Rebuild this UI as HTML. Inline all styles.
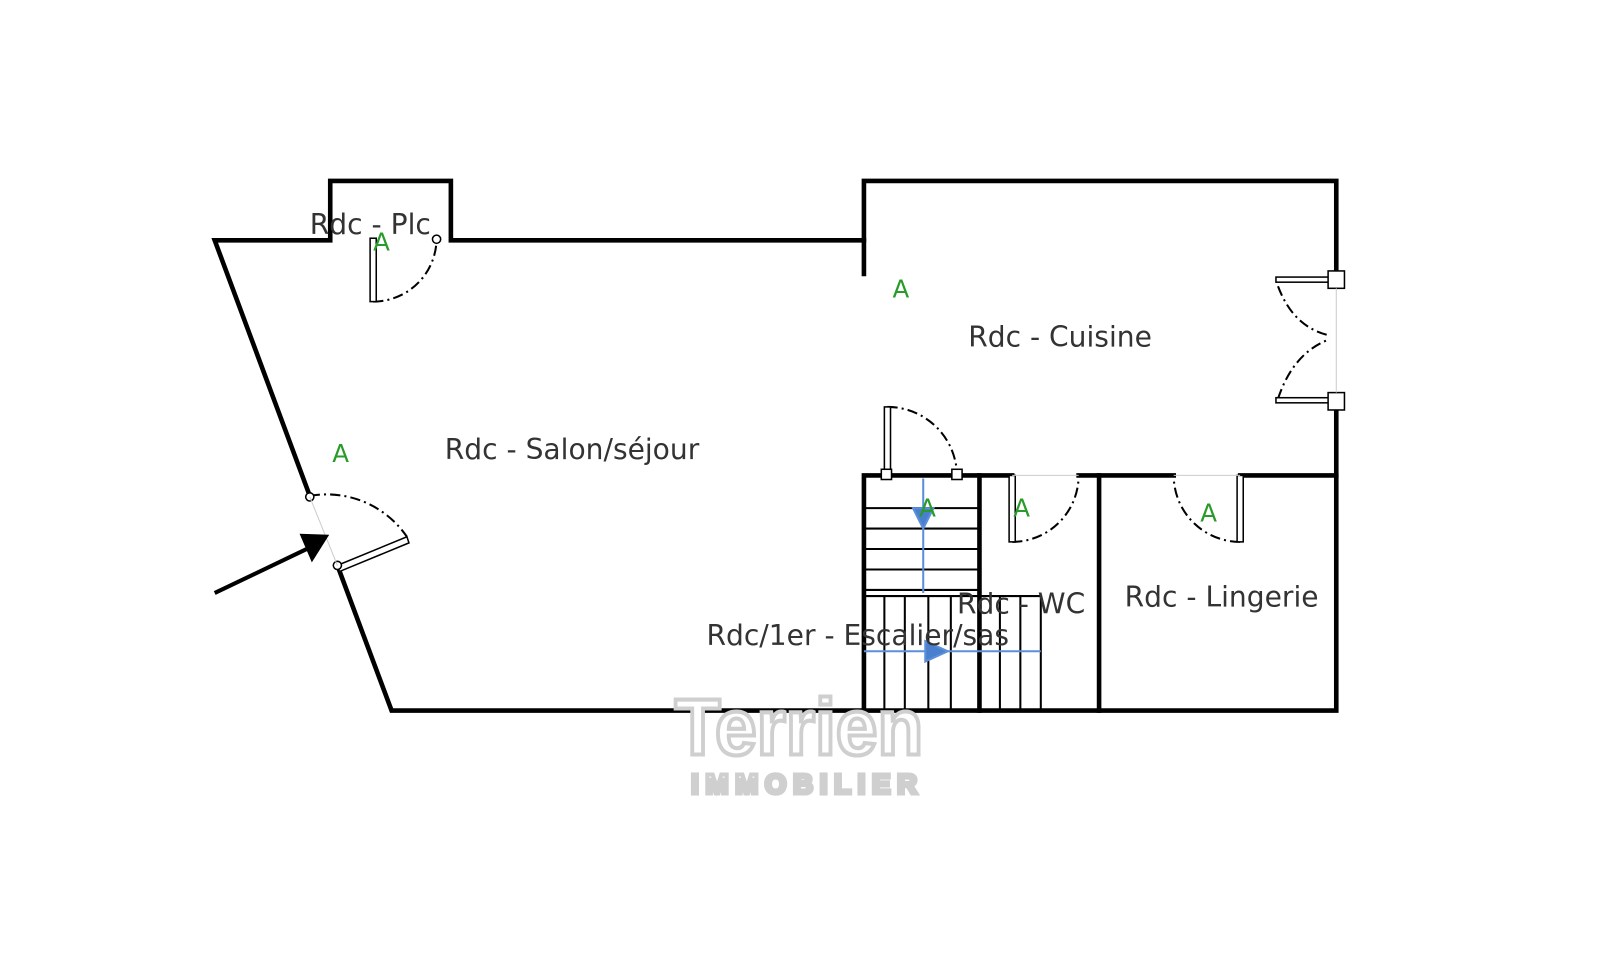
<!DOCTYPE html>
<html><head><style>body{margin:0;background:#fff}svg{display:block}</style></head><body>
<svg width="1600" height="961" viewBox="0 0 1600 961" xmlns="http://www.w3.org/2000/svg" font-family="'DejaVu Sans','Liberation Sans',sans-serif">
<g transform="scale(1.0224)">
<g fill="none" stroke="#000" stroke-width="4.5" stroke-linecap="square">
<polyline points="303,485 210,235 323,235 323,177 441,177 441,235 845,235"/>
<polyline points="845,268 845,177 1307,177 1307,268"/>
<polyline points="1307,398 1307,695 383,695 330,553"/>
<polyline points="845,695 845,465 990,465"/>
<line x1="1055" y1="465" x2="1148" y2="465"/>
<line x1="1213" y1="465" x2="1307" y2="465"/>
<line x1="958" y1="465" x2="958" y2="695"/>
<line x1="1075" y1="465" x2="1075" y2="695"/>
</g>
<g stroke="#000" stroke-width="2" fill="none">
<line x1="845" y1="497" x2="958" y2="497"/><line x1="845" y1="517" x2="958" y2="517"/>
<line x1="845" y1="537" x2="958" y2="537"/><line x1="845" y1="557" x2="958" y2="557"/>
<line x1="845" y1="577" x2="958" y2="577"/><line x1="845" y1="583" x2="1018" y2="583"/>
<line x1="865" y1="583" x2="865" y2="695"/><line x1="885" y1="583" x2="885" y2="695"/>
<line x1="908" y1="583" x2="908" y2="695"/><line x1="930" y1="583" x2="930" y2="695"/>
<line x1="978" y1="583" x2="978" y2="695"/><line x1="998" y1="583" x2="998" y2="695"/>
<line x1="1018" y1="583" x2="1018" y2="695"/>
</g>
<g stroke="#5b8fd8" stroke-width="2" fill="#4a7fd0">
<line x1="903" y1="468" x2="903" y2="580"/>
<polygon points="893,497 913,497 903,517"/>
<line x1="845" y1="637" x2="1018" y2="637"/>
<polygon points="905,627 905,647 927,637"/>
</g>
<g stroke="#000" stroke-width="2" fill="none" stroke-dasharray="10,4,2,4">
<path d="M365,295 A62,62 0 0 0 427,233"/>
<path d="M303,485 A95,95 0 0 1 398,525"/>
<path d="M868,398 A68,68 0 0 1 936,464"/>
<path d="M990,530 A65,65 0 0 0 1055,465"/>
<path d="M1213,530 A65,65 0 0 1 1148,465"/>
<path d="M1250,280 Q1265,320 1300,328"/>
<path d="M1250,390 Q1265,345 1300,332"/>
</g>
<g stroke="#000" stroke-width="1.5" fill="#fff">
<rect x="362" y="233" width="6" height="62"/>
<rect x="865" y="398" width="6" height="66"/>
<rect x="987" y="465" width="6" height="65"/>
<rect x="1210" y="465" width="6" height="65"/>
<polygon points="330,553 398,525 400,531 332,559"/>
<rect x="1248" y="271" width="54" height="5"/>
<rect x="1248" y="389" width="54" height="5"/>
<rect x="1299" y="265" width="16" height="17"/>
<rect x="1299" y="384" width="16" height="17"/>
<circle cx="303" cy="486" r="4"/><circle cx="330" cy="553" r="4"/>
<circle cx="427" cy="234" r="4"/><rect x="862" y="459" width="10" height="10"/><rect x="931" y="459" width="10" height="10"/>
</g>
<g stroke="#ccc" stroke-width="1"><line x1="303" y1="486" x2="330" y2="553"/><line x1="990" y1="465" x2="1055" y2="465"/><line x1="1148" y1="465" x2="1213" y2="465"/><line x1="1307" y1="282" x2="1307" y2="384"/></g>
<line x1="210" y1="580" x2="300" y2="537" stroke="#000" stroke-width="4"/>
<polygon points="293,522 322,523 305,550" fill="#000"/>
<g fill="#2a9a2a" font-size="24">
<text x="365" y="245">A</text><text x="325" y="452">A</text><text x="873" y="291">A</text>
<text x="899" y="505">A</text><text x="991" y="505">A</text><text x="1174" y="510">A</text>
</g>
<g fill="#333" font-size="27.5">
<text x="303" y="229">Rdc - Plc</text>
<text x="435" y="449">Rdc - Salon/séjour</text>
<text x="947" y="339">Rdc - Cuisine</text>
<text x="936" y="600">Rdc - WC</text>
<text x="1100" y="593">Rdc - Lingerie</text>
<text x="691" y="631">Rdc/1er - Escalier/sas</text>
</g>
<g fill="#fff" stroke="#cfcfcf" stroke-width="4" font-family="'Liberation Sans',sans-serif" font-weight="bold">
<text x="660" y="738" font-size="78" textLength="243" lengthAdjust="spacingAndGlyphs">Terrien</text>
<text x="676" y="776" font-size="27" textLength="221" lengthAdjust="spacing">IMMOBILIER</text>
</g>
</g>
</svg>
</body></html>
